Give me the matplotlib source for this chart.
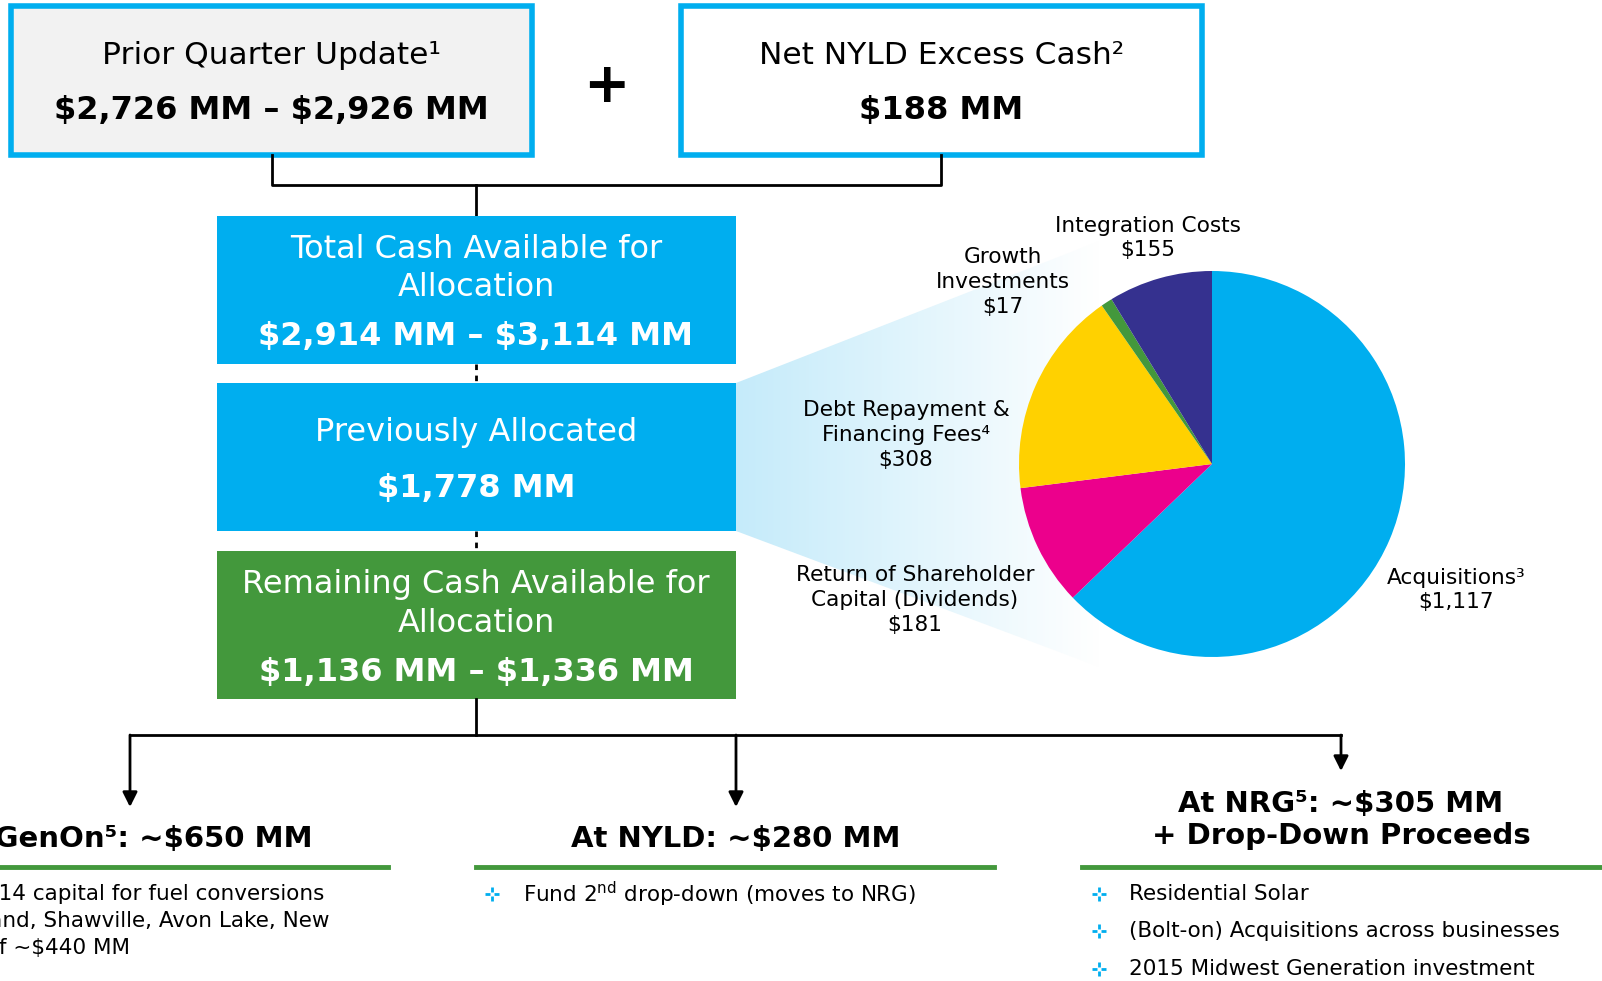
import numpy as np
import matplotlib
matplotlib.use("Agg")
import matplotlib.pyplot as plt
from matplotlib.patches import Rectangle, Polygon
from matplotlib.path import Path

plt.rcParams["text.parse_math"] = False

# pie data (MM)
pie_labels = ["Acquisitions³\n$1,117", "Return of Shareholder\nCapital (Dividends)\n$181",
              "Debt Repayment &\nFinancing Fees⁴\n$308", "Growth\nInvestments\n$17",
              "Integration Costs\n$155"]
pie_values = [1117, 181, 308, 17, 155]
pie_colors = ["#00AEEF", "#EC008C", "#FFD100", "#43983C", "#35318F"]

# box texts
top_titles = ["Prior Quarter Update¹", "Net NYLD Excess Cash²"]
top_values = ["$2,726 MM – $2,926 MM", "$188 MM"]
mid_titles = ["Total Cash Available for\nAllocation", "Previously Allocated",
              "Remaining Cash Available for\nAllocation"]
mid_values = ["$2,914 MM – $3,114 MM", "$1,778 MM", "$1,136 MM – $1,336 MM"]
dest_titles = ["At GenOn⁵: ~$650 MM", "At NYLD: ~$280 MM",
               "At NRG⁵: ~$305 MM\n+ Drop-Down Proceeds"]
genon_lines = ["Fund 2014 capital for fuel conversions",
               "at Portland, Shawville, Avon Lake, New",
               "Castle of ~$440 MM"]
nyld_bullets = ["Fund 2$^{\\mathregular{nd}}$ drop-down (moves to NRG)"]
nrg_bullets = ["Residential Solar", "(Bolt-on) Acquisitions across businesses",
               "2015 Midwest Generation investment"]

BLUE = "#00AEEF"
GREEN = "#43983C"

# little four-dash sparkle used as bullet
spark = Path([(0, 0.3), (0, 1), (0, -0.3), (0, -1), (0.3, 0), (1, 0), (-0.3, 0), (-1, 0)],
             [Path.MOVETO, Path.LINETO] * 4)

W, H = 1602, 981
fig = plt.figure(figsize=(W / 100, H / 100), dpi=100)
ax = fig.add_axes([0, 0, 1, 1])
ax.set_xlim(0, W)
ax.set_ylim(H, 0)
ax.axis("off")

# top boxes
for x0, x1, fc, t, v in [(11, 532, "#F2F2F2", top_titles[0], top_values[0]),
                         (681, 1202, "white", top_titles[1], top_values[1])]:
    ax.add_patch(Rectangle((x0, 6), x1 - x0, 149, fc=fc, ec=BLUE, lw=4))
    cx = (x0 + x1) / 2
    ax.text(cx, 56, t, ha="center", va="center", fontsize=22.5)
    ax.text(cx, 111, v, ha="center", va="center", fontsize=23, fontweight="bold")
ax.text(606, 87, "+", ha="center", va="center", fontsize=40, fontweight="bold")

# connector lines
ax.plot([272, 272, 941, 941], [155, 185, 185, 155], color="black", lw=2)
ax.plot([476, 476], [185, 216], color="black", lw=2)
ax.plot([476, 476], [364, 383], color="black", lw=2, ls=(0, (2, 2)))
ax.plot([476, 476], [531, 551], color="black", lw=2, ls=(0, (2, 2)))

# gradient wedge toward pie
poly = Polygon([(736, 383), (1112, 236), (1150, 686), (736, 531)], closed=True,
               fc="none", ec="none")
ax.add_patch(poly)
grad = np.linspace(0, 1, 256)[None, :]
cmap = matplotlib.colors.LinearSegmentedColormap.from_list("g", ["#C5EBFA", "#FFFFFF"])
im = ax.imshow(grad, extent=[736, 1100, 700, 220], cmap=cmap, aspect="auto", zorder=1)
im.set_clip_path(poly)
ax.set_xlim(0, W)
ax.set_ylim(H, 0)

# middle boxes
boxes = [(216, 364, BLUE), (383, 531, BLUE), (551, 699, GREEN)]
title_y = [(249, 288), (433,), (584, 623)]
value_y = [337, 488, 672]
for (y0, y1, c), t, v, ty, vy in zip(boxes, mid_titles, mid_values, title_y, value_y):
    ax.add_patch(Rectangle((217, y0), 519, y1 - y0, fc=c, ec="none", zorder=2))
    for line, yy in zip(t.split("\n"), ty):
        ax.text(476, yy, line, ha="center", va="center", fontsize=23, color="white", zorder=3)
    ax.text(476, vy, v, ha="center", va="center", fontsize=23, fontweight="bold",
            color="white", zorder=3)

# pie labels
label_pos = [(1456, 590), (915, 600), (906, 435), (1003, 282), (1148, 238)]
for lab, (lx, ly) in zip(pie_labels, label_pos):
    ax.text(lx, ly, lab, ha="center", va="center", fontsize=15.6, linespacing=1.3, zorder=3)

# bottom tree
ax.plot([476, 476], [699, 735], color="black", lw=2)
ax.plot([130, 1341], [735, 735], color="black", lw=2)
for x, yend in [(130, 807), (736, 807), (1341, 771)]:
    ax.annotate("", xy=(x, yend), xytext=(x, 735),
                arrowprops=dict(arrowstyle="-|>", color="black", lw=2, mutation_scale=22,
                                shrinkA=0, shrinkB=0))

ax.text(130, 839, dest_titles[0], ha="center", va="center", fontsize=21, fontweight="bold")
ax.text(736, 839, dest_titles[1], ha="center", va="center", fontsize=21, fontweight="bold")
ax.text(1341, 820, dest_titles[2], ha="center", va="center", fontsize=21, fontweight="bold",
        linespacing=1.22)
for x0, x1 in [(0, 388), (476, 994), (1082, 1602)]:
    ax.plot([x0, x1], [867, 867], color=GREEN, lw=3.5)

# GenOn bullet text runs off the left edge, as in the reference
renderer = fig.canvas.get_renderer()
probe = ax.text(0, 0, genon_lines[0], fontsize=15.5)
wpx = probe.get_window_extent(renderer).width
probe.remove()
gx = 324 - wpx
for line, yy in zip(genon_lines, [894, 921, 948]):
    ax.text(gx, yy, line, ha="left", va="center", fontsize=15.5)
ax.plot([gx - 30], [894], marker=spark, ms=10, mew=2, color=BLUE)

for line, yy in zip(nyld_bullets, [894]):
    ax.plot([492], [yy], marker=spark, ms=10, mew=2, color=BLUE)
    ax.text(523, yy, line, ha="left", va="center", fontsize=15.5, parse_math=True)
for line, yy in zip(nrg_bullets, [894, 931, 969]):
    ax.plot([1099], [yy], marker=spark, ms=10, mew=2, color=BLUE)
    ax.text(1129, yy, line, ha="left", va="center", fontsize=15.5)

# pie in its own axes
cx, cy, r = 1212, 464, 193
pax = fig.add_axes([(cx - r) / W, (H - cy - r) / H, 2 * r / W, 2 * r / H])
pax.pie(pie_values, colors=pie_colors, startangle=90, counterclock=False, radius=1,
        wedgeprops=dict(linewidth=0))
pax.set_xlim(-1, 1)
pax.set_ylim(-1, 1)
pax.set_aspect("equal")
pax.axis("off")

fig.savefig("out.png", dpi=100)
